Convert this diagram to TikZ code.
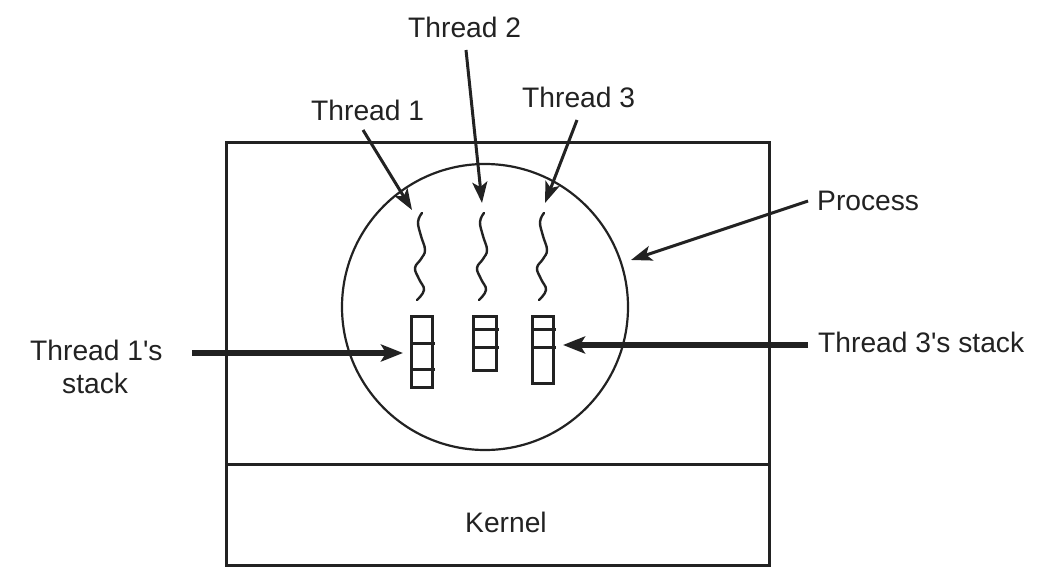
\documentclass[tikz,border=0pt]{standalone}
\usepackage{fontspec}
\setmainfont{Liberation Sans}
\usetikzlibrary{arrows.meta}
\definecolor{ink}{HTML}{222222}
\begin{document}
\begin{tikzpicture}[x=1pt,y=-1pt,
  lbl/.style={inner sep=0pt, anchor=base west, text=ink,
              font=\fontsize{28.2}{33}\selectfont},
  frame/.style={line width=3pt, draw=ink},
  procline/.style={line width=2.2pt, draw=ink},
  stackbox/.style={line width=3pt, draw=ink},
  wave/.style={line width=2.4pt, draw=ink, line cap=round},
  ptr/.style={line width=3pt, draw=ink,
              -{Stealth[length=21pt, width=15pt, inset=5pt]}},
  bigptr/.style={line width=5.5pt, draw=ink,
              -{Stealth[length=22pt, width=17pt, inset=5pt]}}
]
\useasboundingbox (0,0) rectangle (1052,586);

% machine: user space above, kernel below
\draw[frame] (226,142) rectangle (769,565);
\draw[frame] (226,464) -- (769,464);
\node[lbl] (kernel) at (465,532) {Kernel};

% the process
\draw[procline] (485,307) circle (143);

% three threads of control
\foreach \c in {420,482,542}{
  \begin{scope}[xshift=\c pt]
    \draw[wave] plot[smooth, tension=0.7] coordinates
      {(2,213) (-2,222) (1,236) (5,250) (1,259) (-5,268) (-1,279) (4,290) (-3,300)};
  \end{scope}
}

% one stack per thread
\draw[stackbox] (411,316) rectangle (432,387);
\draw[stackbox] (411,343) -- (435,343);
\draw[stackbox] (411,369) -- (435,369);

\draw[stackbox] (473,316) rectangle (496,370);
\draw[stackbox] (473,329) -- (499,329);
\draw[stackbox] (473,347) -- (499,347);

\draw[stackbox] (532,316) rectangle (553,383);
\draw[stackbox] (532,329) -- (556,329);
\draw[stackbox] (532,347) -- (556,347);

% labels
\node[lbl] (th1) at (311,120) {Thread 1};
\node[lbl] (th2) at (408,38) {Thread 2};
\node[lbl] (th3) at (522,107) {Thread 3};
\node[lbl] (proc) at (817,210) {Process};
\node[lbl] (st3) at (818,352) {Thread 3\textquotesingle s stack};
\node[lbl, align=left] (st1) at (30,393)
  {Thread 1\textquotesingle s\\\hspace*{32pt}stack};

% arrow ends
\coordinate (th1a) at (363,130);  \coordinate (th1b) at (412,210);
\coordinate (th2a) at (466,50);   \coordinate (th2b) at (482,203);
\coordinate (th3a) at (577,120);  \coordinate (th3b) at (545,203);
\coordinate (proca) at (808,201); \coordinate (procb) at (631,260);
\coordinate (st1a) at (192,353);  \coordinate (st1b) at (403,353);
\coordinate (st3a) at (808,345);  \coordinate (st3b) at (563,345);

\draw[ptr] (th1a) -- (th1b);
\draw[ptr] (th2a) -- (th2b);
\draw[ptr] (th3a) -- (th3b);
\draw[ptr] (proca) -- (procb);
\draw[bigptr] (st1a) -- (st1b);
\draw[bigptr] (st3a) -- (st3b);
\end{tikzpicture}
\end{document}
